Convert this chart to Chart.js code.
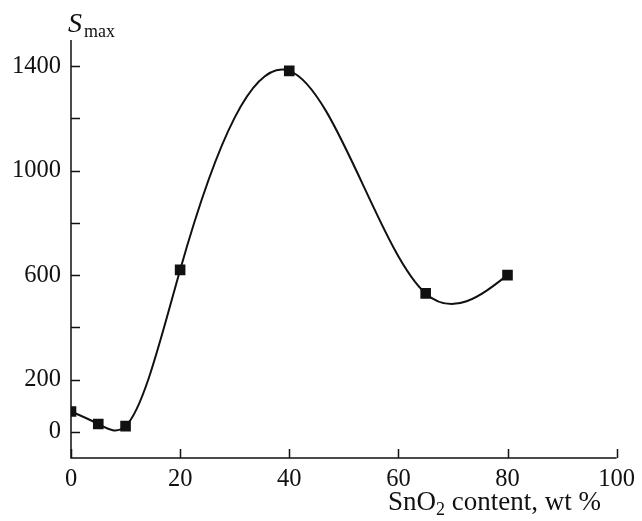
<!DOCTYPE html>
<html>
<head>
<meta charset="utf-8">
<script src="https://cdn.jsdelivr.net/npm/chart.js@4.4.1/dist/chart.umd.min.js"></script>
<style>
  html, body { margin: 0; padding: 0; background: #fff; }
  #wrap { width: 642px; height: 521px; position: relative; }
</style>
</head>
<body>
<div id="wrap"><canvas id="c" width="642" height="521"></canvas></div>
<script>
// SnO2 content (wt %) vs S_max
const sno2 = [0, 5, 10, 20, 40, 65, 80];
const smax = [78, 30, 22, 620, 1382, 530, 600];

const xTicks = [0, 20, 40, 60, 80, 100];
const yLabelled = [0, 200, 600, 1000, 1400];

const INK = '#111';
const SERIF = '"Liberation Serif", "DejaVu Serif", serif';

// natural cubic spline through the points, drawn as bezier segments
function splineSegments(xs, ys) {
  const n = xs.length;
  const h = [], a = [], b = [], c = [], d = [];
  for (let i = 0; i < n - 1; i++) h.push(xs[i+1] - xs[i]);
  const M = new Array(n).fill(0);
  for (let i = 1; i < n - 1; i++) {
    a[i] = h[i-1];
    b[i] = 2 * (h[i-1] + h[i]);
    c[i] = h[i];
    d[i] = 6 * ((ys[i+1] - ys[i]) / h[i] - (ys[i] - ys[i-1]) / h[i-1]);
  }
  for (let i = 2; i < n - 1; i++) {
    const m = a[i] / b[i-1];
    b[i] -= m * c[i-1];
    d[i] -= m * d[i-1];
  }
  for (let i = n - 2; i >= 1; i--) {
    M[i] = (d[i] - (i < n - 2 ? c[i] * M[i+1] : 0)) / b[i];
  }
  const segs = [];
  for (let i = 0; i < n - 1; i++) {
    const hi = h[i], sl = (ys[i+1] - ys[i]) / hi;
    const d0 = sl - hi * (2 * M[i] + M[i+1]) / 6;
    const d1 = sl + hi * (M[i] + 2 * M[i+1]) / 6;
    segs.push([
      [xs[i], ys[i]],
      [xs[i] + hi / 3, ys[i] + d0 * hi / 3],
      [xs[i+1] - hi / 3, ys[i+1] - d1 * hi / 3],
      [xs[i+1], ys[i+1]]
    ]);
  }
  return segs;
}

const curvePlugin = {
  id: 'curve',
  beforeDatasetsDraw(chart) {
    const { ctx, scales: { x, y } } = chart;
    const segs = splineSegments(sno2, smax);
    const px = p => [x.getPixelForValue(p[0]), y.getPixelForValue(p[1])];
    ctx.save();
    ctx.strokeStyle = INK;
    ctx.lineWidth = 2;
    ctx.beginPath();
    segs.forEach((s, i) => {
      const [p0, p1, p2, p3] = s.map(px);
      if (i === 0) ctx.moveTo(p0[0], p0[1]);
      ctx.bezierCurveTo(p1[0], p1[1], p2[0], p2[1], p3[0], p3[1]);
    });
    ctx.stroke();
    ctx.restore();
  }
};

// axis lines, inward ticks and the two titles
const framePlugin = {
  id: 'frame',
  afterDraw(chart) {
    const { ctx, chartArea: ca, scales: { x, y } } = chart;
    ctx.save();
    ctx.strokeStyle = INK;
    ctx.lineWidth = 1.5;
    ctx.beginPath();
    ctx.moveTo(ca.left, ca.top);
    ctx.lineTo(ca.left, ca.bottom);
    ctx.lineTo(ca.right, ca.bottom);
    ctx.stroke();
    ctx.beginPath();
    y.ticks.forEach(t => {
      const py = Math.round(y.getPixelForValue(t.value)) + 0.5;
      ctx.moveTo(ca.left, py);
      ctx.lineTo(ca.left + 9, py);
    });
    x.ticks.forEach(t => {
      const pxx = Math.round(x.getPixelForValue(t.value)) + 0.5;
      ctx.moveTo(pxx, ca.bottom);
      ctx.lineTo(pxx, ca.bottom - 9);
    });
    ctx.stroke();

    ctx.fillStyle = INK;
    ctx.textBaseline = 'alphabetic';
    // y title: S_max
    ctx.font = 'italic 28px ' + SERIF;
    ctx.textAlign = 'left';
    ctx.fillText('S', 68, 32);
    ctx.font = '18px ' + SERIF;
    ctx.fillText('max', 84, 37);
    // x title: SnO2 content, wt %
    ctx.font = '27px ' + SERIF;
    const p1 = 'SnO';
    let tx = 388;
    ctx.fillText(p1, tx, 510);
    tx += ctx.measureText(p1).width;
    ctx.font = '18px ' + SERIF;
    ctx.fillText('2', tx, 515);
    tx += ctx.measureText('2').width;
    ctx.font = '27px ' + SERIF;
    ctx.fillText(' content, wt %', tx, 510);
    ctx.restore();
  }
};

new Chart(document.getElementById('c'), {
  type: 'scatter',
  data: {
    datasets: [{
      data: sno2.map((v, i) => ({ x: v, y: smax[i] })),
      pointStyle: 'rect',
      pointRadius: 7.5,
      pointBackgroundColor: INK,
      pointBorderColor: INK,
      pointBorderWidth: 0,
      showLine: false
    }]
  },
  options: {
    responsive: false,
    animation: false,
    events: [],
    layout: { padding: { left: 0, top: 40, right: 21, bottom: 0 } },
    plugins: { legend: { display: false }, tooltip: { enabled: false } },
    scales: {
      x: {
        type: 'linear', min: 0, max: 100,
        afterBuildTicks: s => { s.ticks = xTicks.map(v => ({ value: v })); },
        afterFit: s => { s.height = 63; },
        grid: { display: false, drawTicks: false },
        border: { display: false },
        ticks: { color: INK, padding: 7, font: { family: SERIF, size: 24.5 }, maxRotation: 0 }
      },
      y: {
        type: 'linear', min: -100, max: 1500,
        afterBuildTicks: s => {
          const t = [];
          for (let v = 0; v <= 1400; v += 200) t.push({ value: v });
          s.ticks = t;
        },
        afterFit: s => { s.width = 71; },
        grid: { display: false, drawTicks: false },
        border: { display: false },
        ticks: {
          color: INK, padding: 10, font: { family: SERIF, size: 24.5 },
          callback: v => yLabelled.includes(v) ? String(v) : ''
        }
      }
    }
  },
  plugins: [curvePlugin, framePlugin]
});
</script>
</body>
</html>
